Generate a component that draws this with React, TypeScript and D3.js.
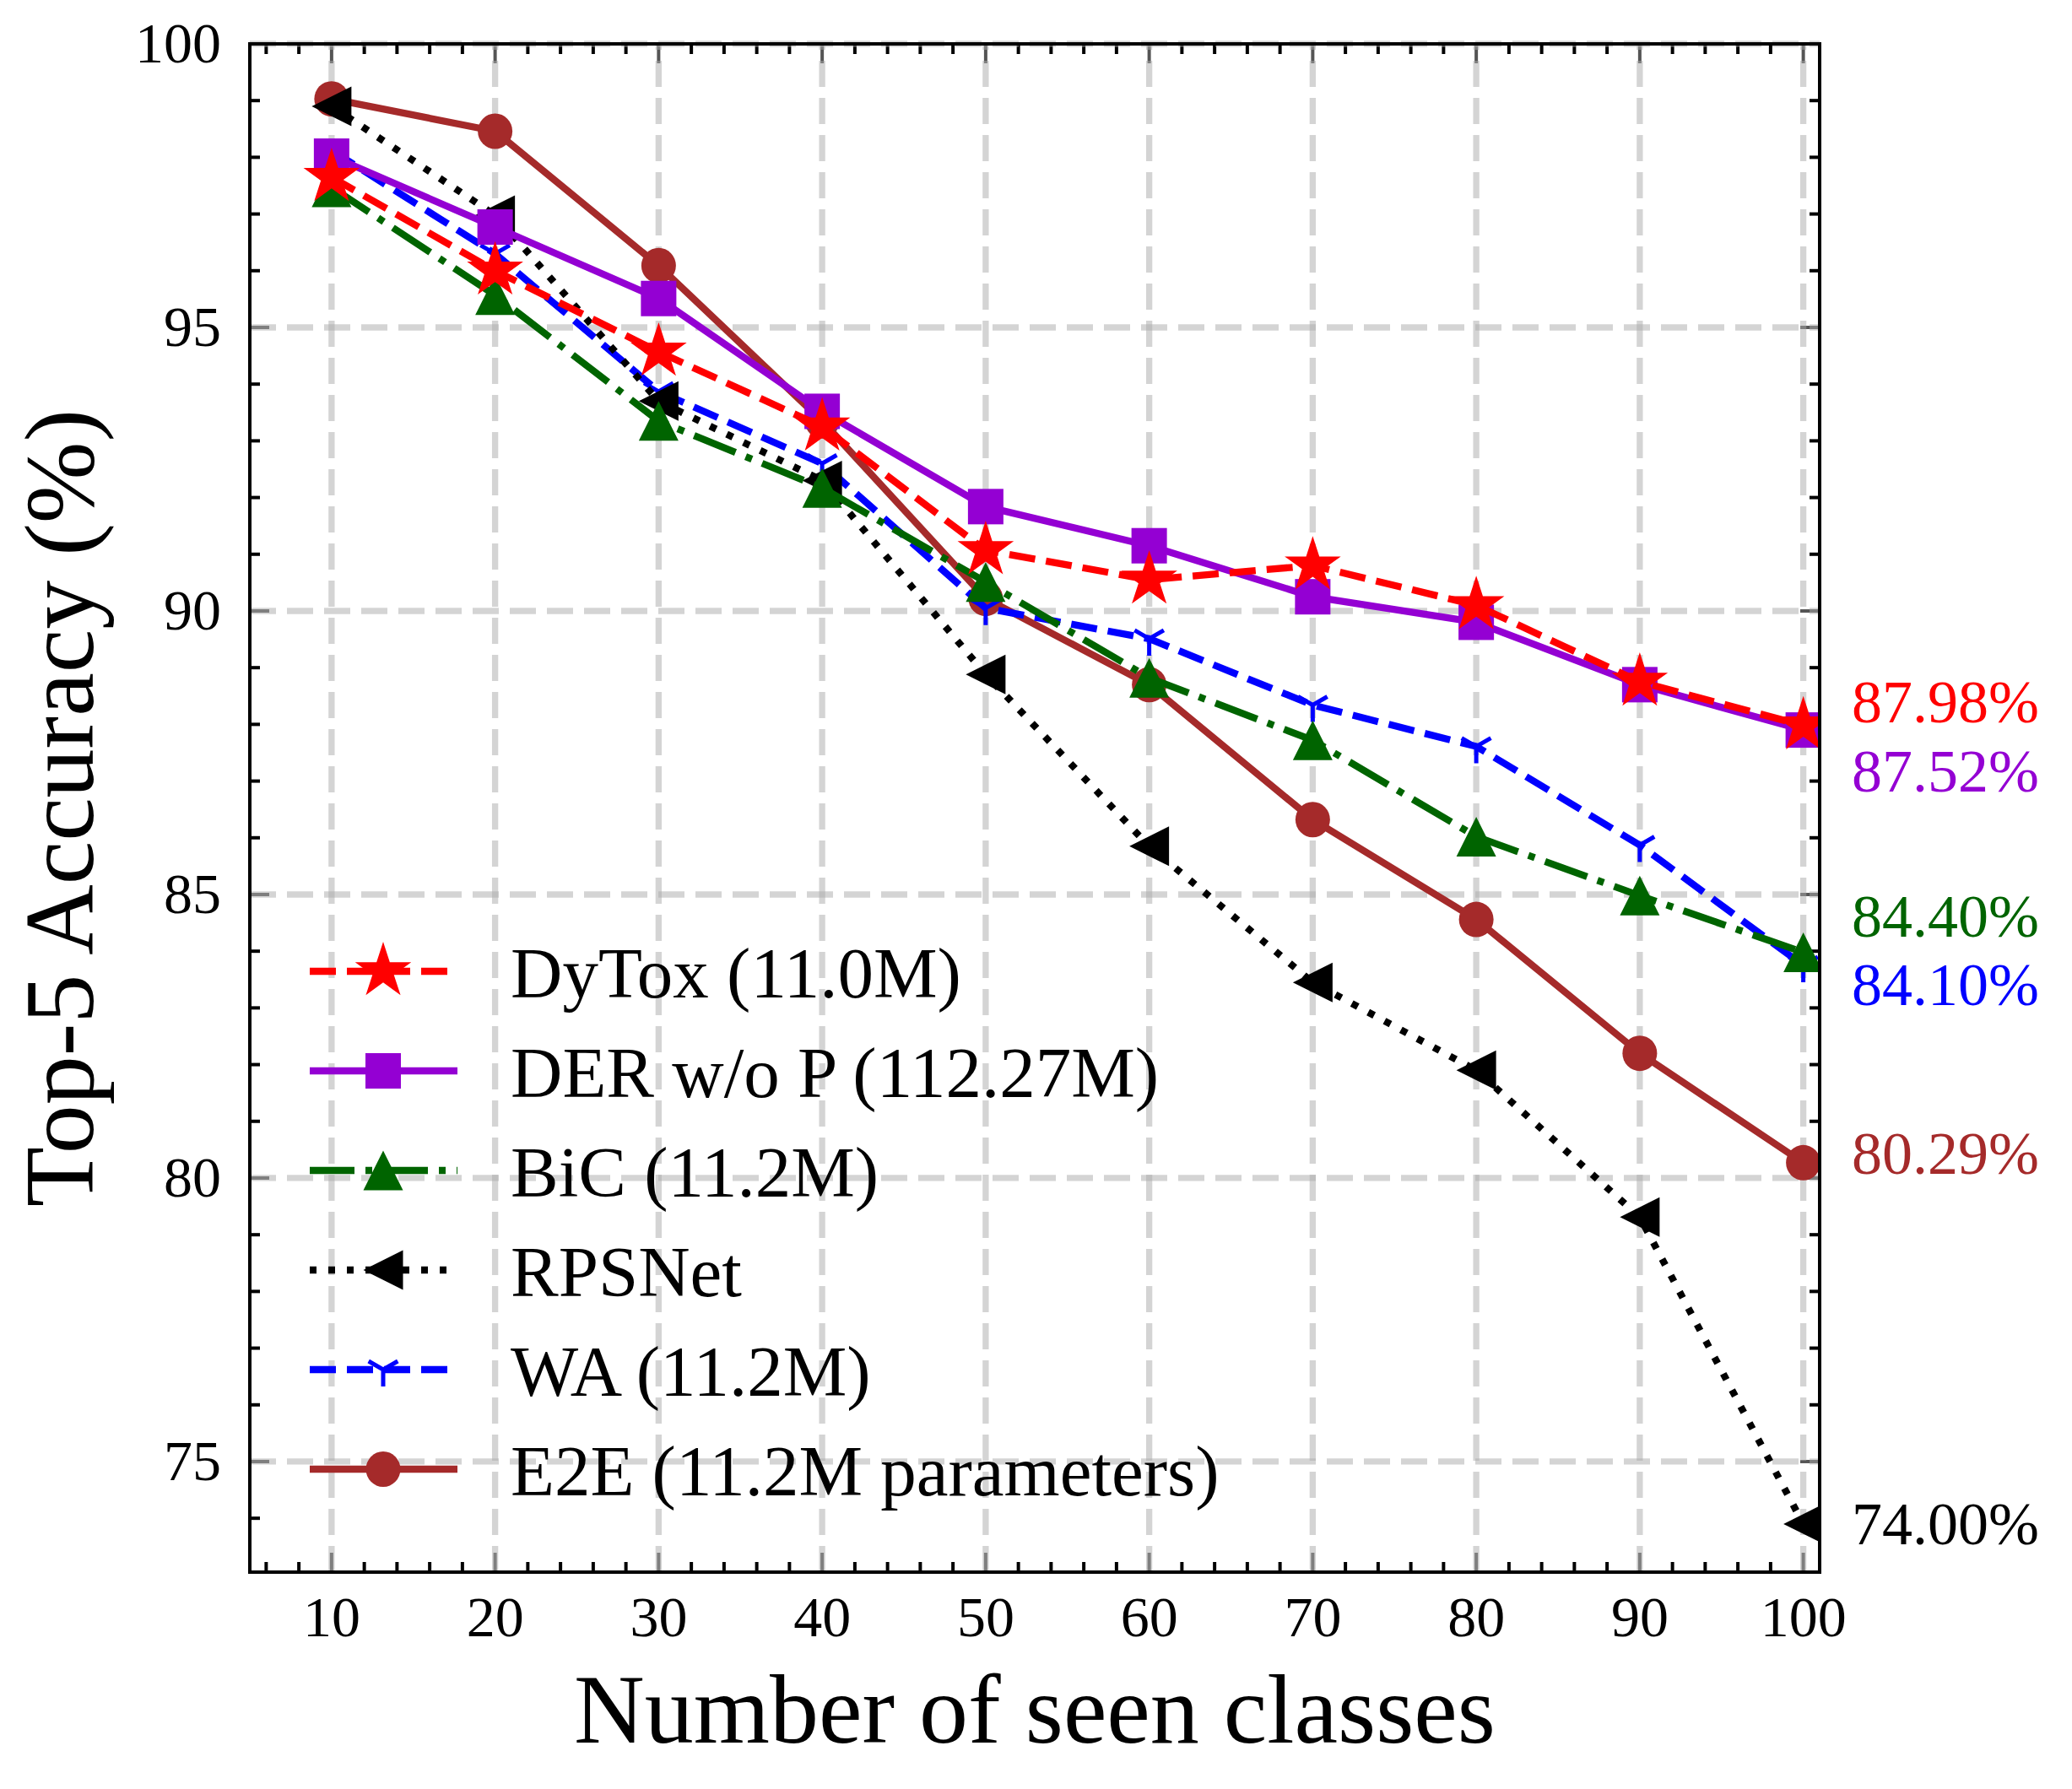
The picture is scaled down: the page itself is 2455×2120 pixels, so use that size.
import React from 'react';
import * as d3 from 'd3';

// x values: number of seen classes
const classes = [10, 20, 30, 40, 50, 60, 70, 80, 90, 100];

// top-5 accuracy per method
const dytox = [97.65, 96.0, 94.57, 93.25, 91.07, 90.55, 90.8, 90.1, 88.75, 87.98];
const derWoP = [98.02, 96.77, 95.51, 93.52, 91.84, 91.15, 90.25, 89.8, 88.7, 87.9];
const bic = [97.47, 95.57, 93.35, 92.17, 90.51, 88.82, 87.72, 86.02, 84.98, 83.98];
const rpsnet = [98.9, 96.98, 93.7, 92.3, 88.88, 85.85, 83.45, 81.9, 79.31, 73.9];
const wa = [98.12, 96.3, 93.87, 92.6, 90.05, 89.51, 88.34, 87.61, 85.87, 83.75];
const e2e = [99.03, 98.46, 96.09, 93.35, 90.22, 88.7, 86.32, 84.56, 82.2, 80.27];

const seriesNames = [
  'DyTox (11.0M)',
  'DER w/o P (112.27M)',
  'BiC (11.2M)',
  'RPSNet',
  'WA (11.2M)',
  'E2E (11.2M parameters)',
];

// final-accuracy labels at the right of the axes
const endLabels = ['87.98%', '87.52%', '84.40%', '84.10%', '80.29%', '74.00%'];
const endLabelY = [88.04, 86.82, 84.26, 83.05, 80.07, 73.54];
const endLabelColors = ['#ff0000', '#9400d3', '#006400', '#0000ff', '#a52a2a', '#000000'];

const xTicks = d3.range(10, 101, 10);
const xMinor = d3.range(6, 101, 2).filter(v => v % 10 !== 0);
const yTicks = [75, 80, 85, 90, 95, 100];
const yMinor = d3.range(74, 100, 1).filter(v => v % 5 !== 0);

const W = 2455;
const H = 2120;
const L = 296;
const R = 2156;
const T = 52;
const B = 1863;
const LW = 8.3;
const FONT = "'Liberation Serif', 'DejaVu Serif', 'Times New Roman', serif";

const x = d3.scaleLinear().domain([5, 101]).range([L, R]);
const y = d3.scaleLinear().domain([73.05, 100]).range([B, T]);

const series = [
  { name: seriesNames[0], values: dytox, color: '#ff0000', dash: '31,13', marker: 'star' },
  { name: seriesNames[1], values: derWoP, color: '#9400d3', dash: null, marker: 'square' },
  { name: seriesNames[2], values: bic, color: '#006400', dash: '53,13,8,13', marker: 'tri_up' },
  { name: seriesNames[3], values: rpsnet, color: '#000000', dash: '8,14', marker: 'tri_left' },
  { name: seriesNames[4], values: wa, color: '#0000ff', dash: '31,13', marker: 'tri_down' },
  { name: seriesNames[5], values: e2e, color: '#a52a2a', dash: null, marker: 'circle' },
];

const starPath = (() => {
  const Ro = 35;
  const pts = d3.range(10).map(k => {
    const a = (-90 + k * 36) * Math.PI / 180;
    const r = k % 2 === 0 ? Ro : Ro * 0.381966;
    return [r * Math.cos(a), r * Math.sin(a)];
  });
  return 'M' + pts.map(p => p.join(',')).join('L') + 'Z';
})();

function Marker({ type, cx, cy, color }) {
  const t = `translate(${cx},${cy})`;
  if (type === 'star') return <path d={starPath} transform={t} fill={color} />;
  if (type === 'square') return <rect x={cx - 21} y={cy - 21} width={42} height={42} fill={color} />;
  if (type === 'circle') return <ellipse cx={cx} cy={cy} rx={20.5} ry={21} fill={color} />;
  if (type === 'tri_up') return <path d="M0,-23.5L-23.5,23.5L23.5,23.5Z" transform={t} fill={color} />;
  if (type === 'tri_left') return <path d="M-23.5,0L23.5,-23.5L23.5,23.5Z" transform={t} fill={color} />;
  // tri_down: three spokes
  return (
    <path
      d="M0,0L0,20M0,0L-17.3,-10M0,0L17.3,-10"
      transform={t}
      stroke={color}
      strokeWidth={5}
      fill="none"
    />
  );
}

export default function App() {
  const line = d3
    .line<number>()
    .x((_, i) => x(classes[i]))
    .y(d => y(d));

  const drawOrder = [...series].reverse();

  return (
    <svg
      width={W}
      height={H}
      style={{ position: 'absolute', left: 0, top: 0, background: '#fff' }}
      fontFamily={FONT}>
      <defs>
        <clipPath id="plot">
          <rect x={L} y={T} width={R - L} height={B - T} />
        </clipPath>
      </defs>
      <rect width={W} height={H} fill="#fff" />

      {/* ticks, inward on all four sides */}
      <g stroke="#000" strokeWidth={4}>
        {xMinor.map(v => (
          <g key={`xm${v}`}>
            <line x1={x(v)} x2={x(v)} y1={B} y2={B - 12} />
            <line x1={x(v)} x2={x(v)} y1={T} y2={T + 12} />
          </g>
        ))}
        {yMinor.map(v => (
          <g key={`ym${v}`}>
            <line x1={L} x2={L + 12} y1={y(v)} y2={y(v)} />
            <line x1={R} x2={R - 12} y1={y(v)} y2={y(v)} />
          </g>
        ))}
      </g>
      <g stroke="#555" strokeWidth={4}>
        {xTicks.map(v => (
          <g key={`xM${v}`}>
            <line x1={x(v)} x2={x(v)} y1={B} y2={B - 23} />
            <line x1={x(v)} x2={x(v)} y1={T} y2={T + 23} />
          </g>
        ))}
        {yTicks.map(v => (
          <g key={`yM${v}`}>
            <line x1={L} x2={L + 23} y1={y(v)} y2={y(v)} />
            <line x1={R} x2={R - 23} y1={y(v)} y2={y(v)} />
          </g>
        ))}
      </g>

      {/* grid */}
      <g stroke="#a9a9a9" strokeOpacity={0.5} strokeWidth={7.3} strokeDasharray="31,13">
        {xTicks.map(v => (
          <line key={`gx${v}`} x1={x(v)} x2={x(v)} y1={B} y2={T} />
        ))}
        {yTicks.map(v => (
          <line key={`gy${v}`} x1={L} x2={R} y1={y(v)} y2={y(v)} />
        ))}
      </g>

      {/* series */}
      <g clipPath="url(#plot)">
        {drawOrder.map(s => (
          <g key={s.name}>
            <path
              d={line(s.values) || ''}
              fill="none"
              stroke={s.color}
              strokeWidth={LW}
              strokeDasharray={s.dash || undefined}
              strokeLinejoin="round"
            />
            {s.values.map((v, i) => (
              <Marker key={i} type={s.marker} cx={x(classes[i])} cy={y(v)} color={s.color} />
            ))}
          </g>
        ))}
      </g>

      {/* spines */}
      <rect x={L} y={T} width={R - L} height={B - T} fill="none" stroke="#000" strokeWidth={4} />

      {/* tick labels */}
      <g fontSize={68} fill="#000">
        {xTicks.map(v => (
          <text key={`xl${v}`} x={x(v)} y={1939} textAnchor="middle">
            {v}
          </text>
        ))}
        {yTicks.map(v => (
          <text key={`yl${v}`} x={262} y={y(v) + 22} textAnchor="end">
            {v}
          </text>
        ))}
      </g>

      {/* axis titles */}
      <text x={(L + R) / 2} y={2065} fontSize={116} textAnchor="middle">
        Number of seen classes
      </text>
      <text
        transform={`translate(110,${(T + B) / 2}) rotate(-90)`}
        fontSize={116}
        textAnchor="middle">
        Top-5 Accuracy (%)
      </text>

      {/* legend */}
      <g>
        {series.map((s, i) => {
          const ly = 1151 + i * 118;
          return (
            <g key={`lg${i}`}>
              <line
                x1={367}
                x2={542}
                y1={ly}
                y2={ly}
                stroke={s.color}
                strokeWidth={LW}
                strokeDasharray={s.dash || undefined}
              />
              <Marker type={s.marker} cx={454} cy={ly} color={s.color} />
              <text x={605} y={ly + 31} fontSize={85}>
                {s.name}
              </text>
            </g>
          );
        })}
      </g>

      {/* end labels */}
      <g fontSize={72}>
        {endLabels.map((t, i) => (
          <text key={t} x={2194} y={y(endLabelY[i])} fill={endLabelColors[i]}>
            {t}
          </text>
        ))}
      </g>
    </svg>
  );
}
